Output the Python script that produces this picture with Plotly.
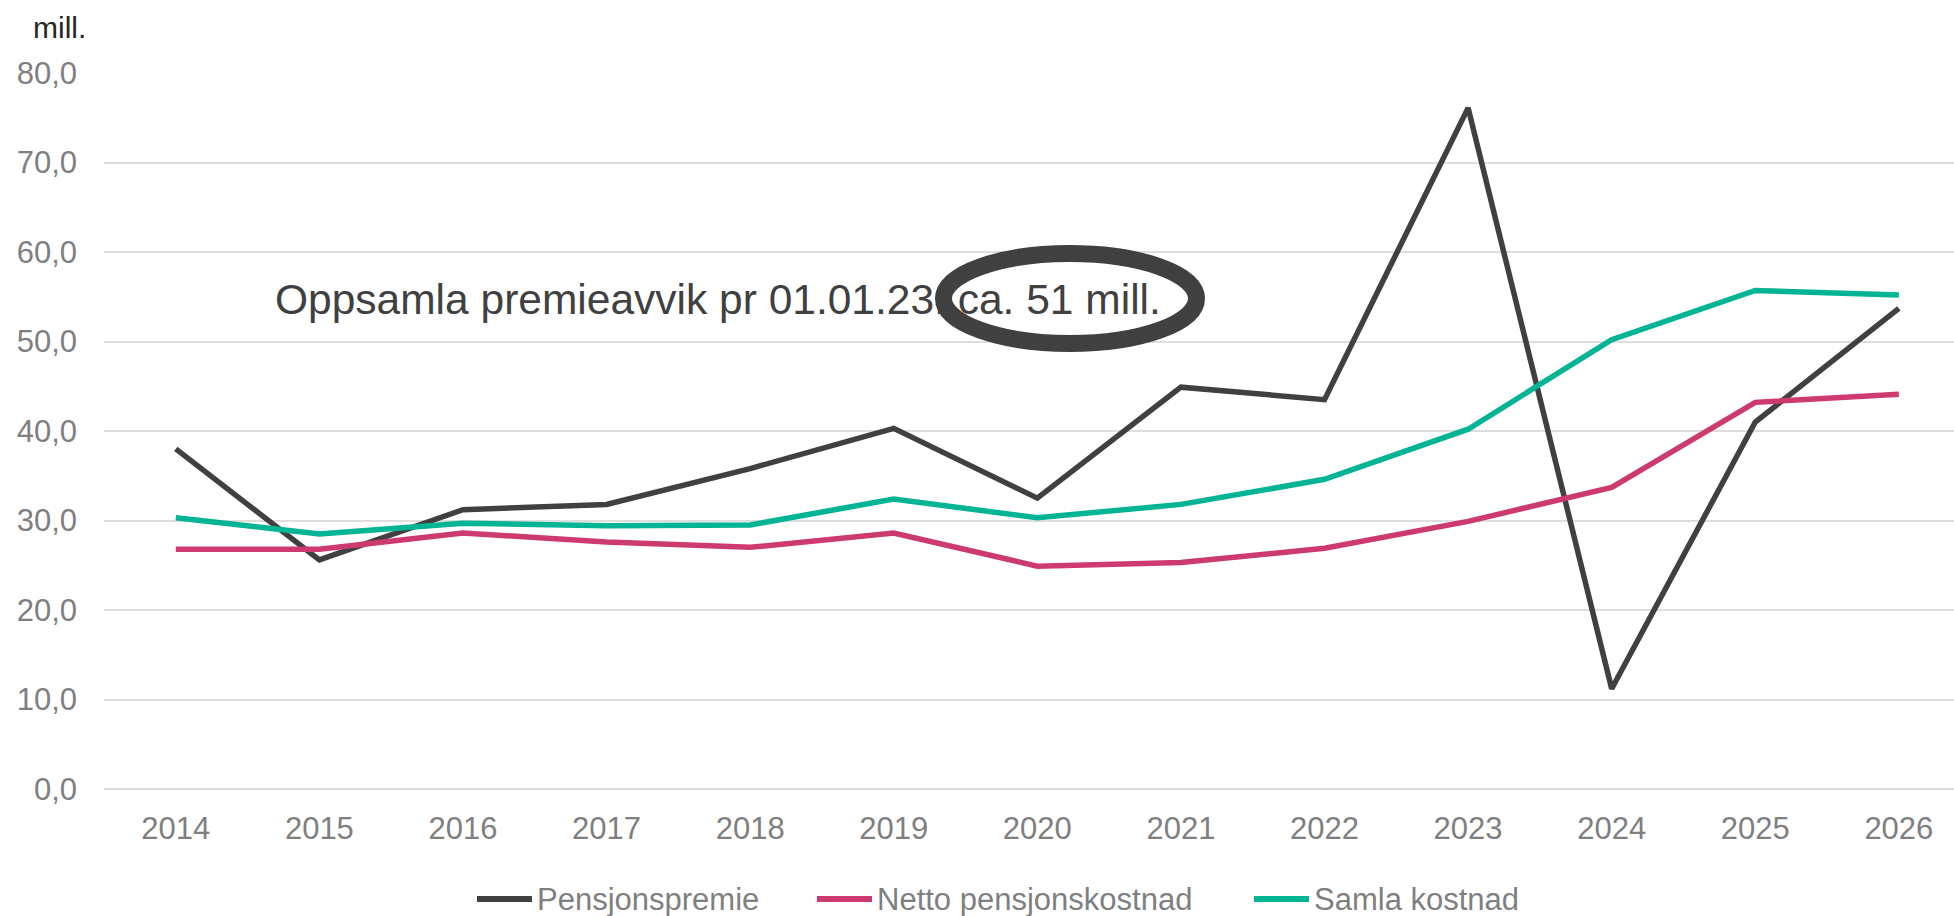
import plotly.graph_objects as go

years = ["2014", "2015", "2016", "2017", "2018", "2019", "2020",
         "2021", "2022", "2023", "2024", "2025", "2026"]
pensjonspremie = [38.0, 25.6, 31.2, 31.8, 35.8, 40.3, 32.5, 44.9, 43.5, 76.1, 11.2, 41.0, 53.7]
netto_pensjonskostnad = [26.8, 26.8, 28.6, 27.6, 27.0, 28.6, 24.9, 25.3, 26.9, 29.9, 33.7, 43.2, 44.1]
samla_kostnad = [30.3, 28.5, 29.7, 29.4, 29.5, 32.4, 30.3, 31.8, 34.6, 40.2, 50.2, 55.7, 55.2]

series_names = ["Pensjonspremie", "Netto pensjonskostnad", "Samla kostnad"]
series_colors = ["#404040", "#CC3A6F", "#00B494"]
y_ticks = [0, 10, 20, 30, 40, 50, 60, 70, 80]

FONT = "Liberation Sans, Arial, sans-serif"

fig = go.Figure()
for name, vals, col in zip(series_names,
                           [pensjonspremie, netto_pensjonskostnad, samla_kostnad],
                           series_colors):
    fig.add_trace(go.Scatter(
        x=years, y=vals, name=name, mode="lines",
        line=dict(color=col, width=5.5),
        showlegend=False,
    ))

W, H = 1954, 916
ml, mr, mt, mb = 104, 0, 73, 127
pw = W - ml - mr
ph = H - mt - mb


def px_to_paper_x(px):
    return (px - ml) / pw


def px_to_paper_y(py):
    return (H - mb - py) / ph


annotations = [
    dict(
        text="mill.", xref="paper", yref="paper",
        x=px_to_paper_x(31), y=px_to_paper_y(27),
        xanchor="left", yanchor="middle", showarrow=False,
        font=dict(size=30, color="#262626", family=FONT),
    ),
    dict(
        text="Oppsamla premieavvik pr 01.01.23: ca. 51 mill.",
        xref="paper", yref="paper",
        x=px_to_paper_x(273), y=px_to_paper_y(299),
        xanchor="left", yanchor="middle", showarrow=False,
        font=dict(size=42.5, color="#404040", family=FONT),
    ),
]
shapes = [
    dict(
        type="circle", xref="paper", yref="paper",
        x0=px_to_paper_x(943.5), x1=px_to_paper_x(1196.5),
        y0=px_to_paper_y(343.5), y1=px_to_paper_y(253.5),
        line=dict(color="#404040", width=17),
        fillcolor="rgba(0,0,0,0)",
        layer="above",
    ),
]

# legend (line sample + label) below the axis
legend_starts = [477, 817, 1254]
legend_y = 899
for name, col, x0 in zip(series_names, series_colors, legend_starts):
    shapes.append(dict(
        type="line", xref="paper", yref="paper",
        x0=px_to_paper_x(x0), x1=px_to_paper_x(x0 + 55),
        y0=px_to_paper_y(legend_y), y1=px_to_paper_y(legend_y),
        line=dict(color=col, width=6),
    ))
    annotations.append(dict(
        text=name, xref="paper", yref="paper",
        x=px_to_paper_x(x0 + 58), y=px_to_paper_y(legend_y),
        xanchor="left", yanchor="middle", showarrow=False,
        font=dict(size=31, color="#7F7F7F", family=FONT),
    ))

fig.update_layout(
    width=W, height=H,
    margin=dict(l=ml, r=mr, t=mt, b=mb, autoexpand=False),
    paper_bgcolor="white",
    plot_bgcolor="white",
    separators=", ",
    font=dict(family=FONT, size=31, color="#7F7F7F"),
    xaxis=dict(
        type="category",
        range=[-0.5, 12.384],
        showgrid=False,
        showline=False,
        zeroline=False,
        ticks="",
        tickfont=dict(size=31, color="#7F7F7F"),
        ticklabelstandoff=18,
        automargin=False,
    ),
    yaxis=dict(
        range=[0, 80],
        tickvals=y_ticks,
        tickformat=".1f",
        showgrid=True,
        gridcolor="#DEDEDE",
        gridwidth=2,
        zeroline=True,
        zerolinecolor="#DEDEDE",
        zerolinewidth=2,
        showline=False,
        ticks="",
        tickfont=dict(size=31, color="#7F7F7F"),
        ticklabelstandoff=26,
        automargin=False,
    ),
    showlegend=False,
    annotations=annotations,
    shapes=shapes,
)

fig.write_html("out.html")
